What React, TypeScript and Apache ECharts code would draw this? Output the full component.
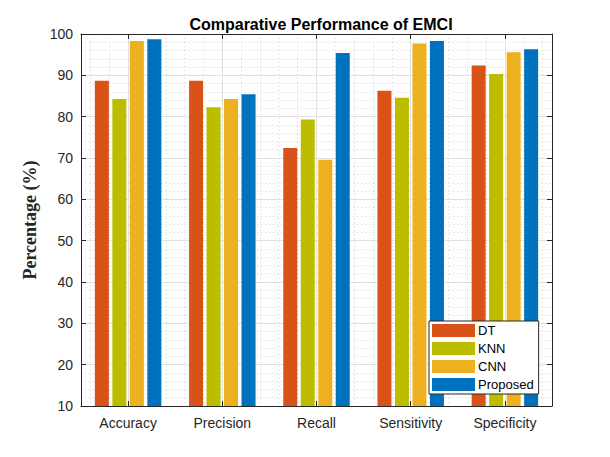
import React, { useEffect, useRef } from "react";
import * as echarts from "echarts";

const categories = ["Accuracy", "Precision", "Recall", "Sensitivity", "Specificity"];
const seriesNames = ["DT", "KNN", "CNN", "Proposed"];
const dtValues = [88.7, 88.7, 72.4, 86.3, 92.4];
const knnValues = [84.3, 82.3, 79.3, 84.6, 90.3];
const cnnValues = [98.3, 84.3, 69.6, 97.7, 95.6];
const proposedValues = [98.7, 85.4, 95.4, 98.3, 96.3];
const colors = ["#D95319", "#BDBD00", "#EDB120", "#0072BD"];

const AXIS_COLOR = "#262626";
const FONT = "'Liberation Sans', Arial, Helvetica, sans-serif";

export default function App() {
  const ref = useRef<HTMLDivElement>(null);
  useEffect(() => {
    if (!ref.current) return;
    const chart = echarts.init(ref.current, undefined, { renderer: "svg" });
    const allValues = [dtValues, knnValues, cnnValues, proposedValues];
    const xMin = 0.5;
    const xMax = categories.length + 0.5;
    const majorGrid = { show: true, lineStyle: { color: "#e2e2e2", width: 1, type: "solid" as const } };
    const minorGrid = { show: true, lineStyle: { color: "#d2d2d2", width: 1, type: [1, 3] as any } };
    const option: any = {
      animation: false,
      backgroundColor: "#ffffff",
      title: {
        text: "Comparative Performance of EMCI",
        left: 316,
        textAlign: "center",
        top: 11,
        textStyle: { fontFamily: FONT, fontSize: 16, fontWeight: "bold", color: "#000" },
      },
      grid: { left: 81, right: 58, top: 34, bottom: 51, containLabel: false },
      legend: {
        data: seriesNames,
        orient: "vertical",
        left: 429,
        top: 321,
        itemWidth: 43,
        itemHeight: 13,
        itemGap: 5,
        icon: "rect",
        padding: [3, 5, 3, 3],
        backgroundColor: "#ffffff",
        borderColor: "#262626",
        borderWidth: 1,
        borderRadius: 0,
        textStyle: { fontFamily: FONT, fontSize: 13, color: "#000", padding: [0, 0, 0, -2] },
      },
      xAxis: [
        {
          type: "value",
          min: xMin,
          max: xMax,
          splitNumber: 5,
          position: "bottom",
          axisLine: { show: true, lineStyle: { color: AXIS_COLOR, width: 1 } },
          axisTick: { show: true, inside: true, length: 5, lineStyle: { color: AXIS_COLOR } },
          axisLabel: {
            show: true,
            margin: 10,
            showMinLabel: false,
            showMaxLabel: false,
            fontFamily: FONT,
            fontSize: 14,
            color: AXIS_COLOR,
            formatter: (v: number) =>
              Number.isInteger(v) && categories[v - 1] ? categories[v - 1] : "",
          },
          splitLine: majorGrid,
          minorTick: { show: false, splitNumber: 5 },
          minorSplitLine: minorGrid,
        },
        {
          type: "value",
          min: xMin,
          max: xMax,
          splitNumber: 5,
          position: "top",
          axisLine: { show: true, lineStyle: { color: AXIS_COLOR, width: 1 } },
          axisTick: { show: true, inside: true, length: 5, lineStyle: { color: AXIS_COLOR } },
          axisLabel: { show: false },
          splitLine: { show: false },
        },
      ],
      yAxis: [
        {
          type: "value",
          min: 10,
          max: 100,
          interval: 10,
          position: "left",
          name: "Percentage (%)",
          nameLocation: "middle",
          nameRotate: 90,
          nameGap: 37,
          nameTextStyle: {
            fontFamily: "'Liberation Serif', 'Times New Roman', serif",
            fontWeight: "bold",
            fontSize: 18,
            color: AXIS_COLOR,
          },
          axisLine: { show: true, lineStyle: { color: AXIS_COLOR, width: 1 } },
          axisTick: { show: true, inside: true, length: 5, lineStyle: { color: AXIS_COLOR } },
          axisLabel: { margin: 8, fontFamily: FONT, fontSize: 14, color: AXIS_COLOR },
          splitLine: majorGrid,
          minorTick: { show: false, splitNumber: 5 },
          minorSplitLine: minorGrid,
        },
        {
          type: "value",
          min: 10,
          max: 100,
          interval: 10,
          position: "right",
          axisLine: { show: true, lineStyle: { color: AXIS_COLOR, width: 1 } },
          axisTick: { show: true, inside: true, length: 5, lineStyle: { color: AXIS_COLOR } },
          axisLabel: { show: false },
          splitLine: { show: false },
        },
      ],
      series: seriesNames.map((name, s) => ({
        name,
        type: "bar",
        xAxisIndex: 0,
        yAxisIndex: 0,
        barWidth: 14,
        barGap: "25%",
        itemStyle: { color: colors[s] },
        data: allValues[s].map((v, i) => [i + 1, v]),
      })),
    };
    chart.setOption(option);
    return () => chart.dispose();
  }, []);
  return (
    <div
      ref={ref}
      style={{ position: "fixed", left: 0, top: 0, width: 610, height: 457 }}
    />
  );
}
